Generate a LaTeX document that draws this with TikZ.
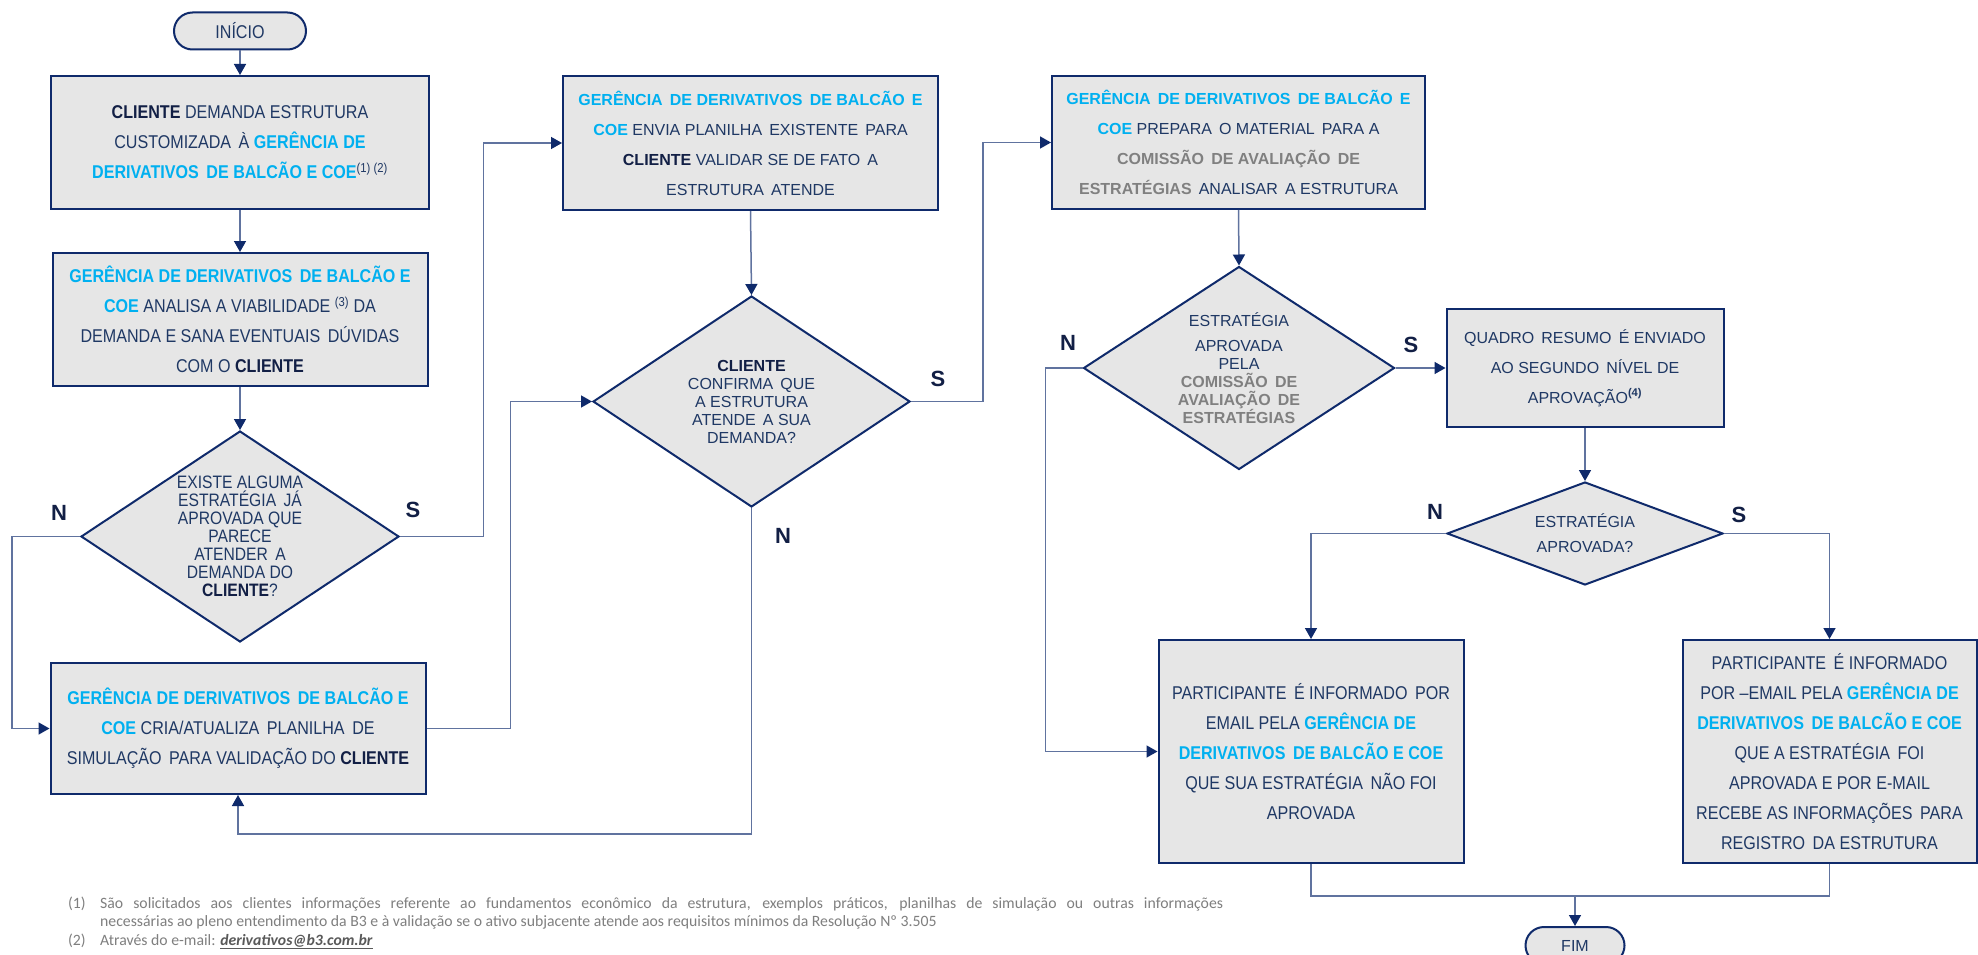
\documentclass[tikz,border=0pt]{standalone}
\usepackage{fontspec}
\setmainfont{Liberation Sans}
\newfontfamily\arialn[FakeStretch=0.87]{Liberation Sans}
\newfontfamily\calib{Carlito}
\usetikzlibrary{shapes.geometric,shapes.misc,arrows.meta}
\definecolor{boxc}{HTML}{0F2A6B}
\definecolor{fillc}{HTML}{E6E6E6}
\definecolor{linec}{HTML}{60739F}
\definecolor{navyc}{HTML}{1F3864}
\definecolor{clientc}{HTML}{121F45}
\definecolor{cyanc}{HTML}{00B0F0}
\definecolor{grayc}{HTML}{808080}
\definecolor{fnc}{HTML}{7F7F7F}
\definecolor{emailc}{HTML}{595959}
\newcommand{\cyb}[1]{\textcolor{cyanc}{\textbf{#1}}}
\newcommand{\clb}[1]{\textcolor{clientc}{\textbf{#1}}}
\newcommand{\grb}[1]{\textcolor{grayc}{\textbf{#1}}}
\begin{document}
\begin{tikzpicture}[x=1pt,y=-1pt,
  boxn/.style={rectangle, draw=boxc, line width=2pt, fill=fillc, align=center, inner sep=0pt, text=navyc},
  narrowf/.style={font=\arialn\fontsize{18.5}{30}\selectfont},
  widef/.style={font=\fontsize{16}{30}\selectfont},
  dian/.style={diamond, draw=boxc, line width=2pt, fill=fillc, inner sep=0pt},
  dtext/.style={align=center, text=navyc, inner sep=0pt},
  term/.style={rounded rectangle, draw=boxc, line width=2pt, fill=fillc, inner sep=0pt, text=navyc},
  conn/.style={draw=linec, line width=1.5pt},
  arr/.style={conn, -{Triangle[length=11pt,width=12pt,color=boxc]}},
  lab/.style={font=\bfseries\fontsize{22}{22}\selectfont, text=clientc, inner sep=0pt},
  fn/.style={font=\calib\fontsize{15.75}{18}\selectfont, text=fnc, inner sep=0pt}
]
\useasboundingbox (0,0) rectangle (1978,955);
\clip (0,0) rectangle (1978,955);
\fill[white] (0,0) rectangle (1978,955);

% ---------- nodes ----------
\node[term, narrowf, minimum width=132pt, minimum height=37pt] (start) at (240,31) {INÍCIO};

\node[boxn, narrowf, minimum width=378pt, minimum height=133pt] (b1) at (240,142.5)
  {\clb{CLIENTE} DEMANDA ESTRUTURA\\
   CUSTOMIZADA \,À \cyb{GERÊNCIA DE}\\
   \cyb{DERIVATIVOS \,DE BALCÃO E COE}\textsuperscript{(1) (2)}};

\node[boxn, narrowf, minimum width=375pt, minimum height=133pt] (b2) at (240,319.5)
  {\cyb{GERÊNCIA DE DERIVATIVOS \,DE BALCÃO E}\\
   \cyb{COE} ANALISA A VIABILIDADE \textsuperscript{(3)} DA\\
   DEMANDA E SANA EVENTUAIS \,DÚVIDAS\\
   COM O \clb{CLIENTE}};

\node[dian, minimum width=318pt, minimum height=211pt,
  label={[dtext, font=\arialn\fontsize{18}{18}\selectfont]center:{EXISTE ALGUMA\\ ESTRATÉGIA \,JÁ\\ APROVADA QUE\\ PARECE\\ ATENDER \,A\\ DEMANDA DO\\ \clb{CLIENTE}?}}]
  (d1) at (240,536.5) {};

\node[boxn, narrowf, minimum width=375pt, minimum height=131pt] (b4) at (238,728.5)
  {\cyb{GERÊNCIA DE DERIVATIVOS \,DE BALCÃO E}\\
   \cyb{COE} CRIA/ATUALIZA \,PLANILHA \,DE\\
   SIMULAÇÃO \,PARA VALIDAÇÃO DO \clb{CLIENTE}};

\node[boxn, widef, minimum width=375pt, minimum height=134pt] (b3) at (750.5,143)
  {\cyb{GERÊNCIA \,DE DERIVATIVOS \,DE BALCÃO \,E}\\
   \cyb{COE} ENVIA PLANILHA \,EXISTENTE \,PARA\\
   \clb{CLIENTE} VALIDAR SE DE FATO \,A\\
   ESTRUTURA \,ATENDE};

\node[dian, minimum width=317pt, minimum height=211pt,
  label={[dtext, font=\fontsize{16}{18}\selectfont]center:{\clb{CLIENTE}\\ CONFIRMA \,QUE\\ A ESTRUTURA\\ ATENDE \,A SUA\\ DEMANDA?}}]
  (d2) at (751.5,401.5) {};

\node[boxn, widef, minimum width=373pt, minimum height=133pt] (b5) at (1238.5,142.5)
  {\cyb{GERÊNCIA \,DE DERIVATIVOS \,DE BALCÃO \,E}\\
   \cyb{COE} PREPARA \,O MATERIAL \,PARA A\\
   \grb{COMISSÃO \,DE AVALIAÇÃO \,DE}\\
   \grb{ESTRATÉGIAS} \,ANALISAR \,A ESTRUTURA};

\node[dian, minimum width=311pt, minimum height=203pt,
  label={[dtext, font=\fontsize{16}{18}\selectfont]center:{ESTRATÉGIA\\[7pt] APROVADA\\ PELA\\ \grb{COMISSÃO \,DE}\\ \grb{AVALIAÇÃO \,DE}\\ \grb{ESTRATÉGIAS}}}]
  (d3) at (1239,368) {};

\node[boxn, widef, minimum width=277pt, minimum height=118pt] (b6) at (1585,368)
  {QUADRO \,RESUMO \,É ENVIADO\\
   AO SEGUNDO \,NÍVEL DE\\
   APROVAÇÃO\textsuperscript{\textbf{(4)}}};

\node[dian, minimum width=276pt, minimum height=103pt,
  label={[dtext, font=\fontsize{16}{25}\selectfont]center:{ESTRATÉGIA\\ APROVADA?}}]
  (d4) at (1585,533.5) {};

\node[boxn, narrowf, minimum width=305pt, minimum height=223pt] (b7) at (1311,751.5)
  {PARTICIPANTE \,É INFORMADO \,POR\\
   EMAIL PELA \cyb{GERÊNCIA DE}\\
   \cyb{DERIVATIVOS \,DE BALCÃO E COE}\\
   QUE SUA ESTRATÉGIA \,NÃO FOI\\
   APROVADA};

\node[boxn, narrowf, minimum width=294pt, minimum height=223pt] (b8) at (1829.5,751.5)
  {PARTICIPANTE \,É INFORMADO\\
   POR –EMAIL PELA \cyb{GERÊNCIA DE}\\
   \cyb{DERIVATIVOS \,DE BALCÃO E COE}\\
   QUE A ESTRATÉGIA \,FOI\\
   APROVADA E POR E-MAIL\\
   RECEBE AS INFORMAÇÕES \,PARA\\
   REGISTRO \,DA ESTRUTURA};

\node[term, font=\fontsize{16}{16}\selectfont, minimum width=99pt, minimum height=37pt] (fim) at (1575,945.5) {FIM};

% ---------- N / S labels ----------
\node[lab] (n1) at (59,513) {N};
\node[lab] (s1) at (413,510) {S};
\node[lab] (s2) at (938,379) {S};
\node[lab] (n2) at (783,536) {N};
\node[lab] (n3) at (1068,343) {N};
\node[lab] (s3) at (1411,345) {S};
\node[lab] (n4) at (1435,512) {N};
\node[lab] (s4) at (1739,515) {S};

% ---------- connectors ----------
\draw[arr] (start.south) -- (b1.north);
\draw[arr] (b1.south) -- (b2.north);
\draw[arr] (b2.south) -- (d1.north);
\draw[arr] (d1.west) -- ++(-68,0) |- (b4.west);
\draw[arr] (d1.east) -- ++(83.5,0) |- (b3.west);
\draw[arr] (b4.east) -- ++(84,0) |- (d2.west);
\draw[arr] (b3.south) -- (d2.north);
\draw[arr] (d2.east) -- ++(72,0) |- (b5.west);
\draw[arr] (d2.south) -- ++(0,326) -| (b4.south);
\draw[arr] (b5.south) -- (d3.north);
\draw[arr] (d3.east) -- (b6.west);
\draw[arr] (d3.west) -- ++(-37,0) |- (b7.west);
\draw[arr] (b6.south) -- (d4.north);
\draw[arr] (d4.west) -| (b7.north);
\draw[arr] (d4.east) -| (b8.north);
\draw[conn] (b7.south) -- ++(0,32) coordinate (j1) -| (b8.south);
\draw[arr] (j1 -| fim.north) -- (fim.north);

% ---------- footnotes ----------
\node[fn, anchor=base west] (f1n) at (68,908) {(1)};
\node[fn, anchor=base west] (f1a) at (100,908)
  {\makebox[1123pt][s]{São solicitados aos clientes informações referente ao fundamentos econômico da estrutura, exemplos práticos, planilhas de simulação ou outras informações}};
\node[fn, anchor=base west] (f1b) at (100,926)
  {necessárias ao pleno entendimento da B3 e à validação se o ativo subjacente atende aos requisitos mínimos da Resolução Nº 3.505};
\node[fn, anchor=base west] (f2n) at (68,945) {(2)};
\node[fn, anchor=base west] (f2) at (100,945)
  {Através do e-mail: \textcolor{emailc}{\underline{\textbf{\textit{derivativos@b3.com.br}}}}};
\end{tikzpicture}
\end{document}
